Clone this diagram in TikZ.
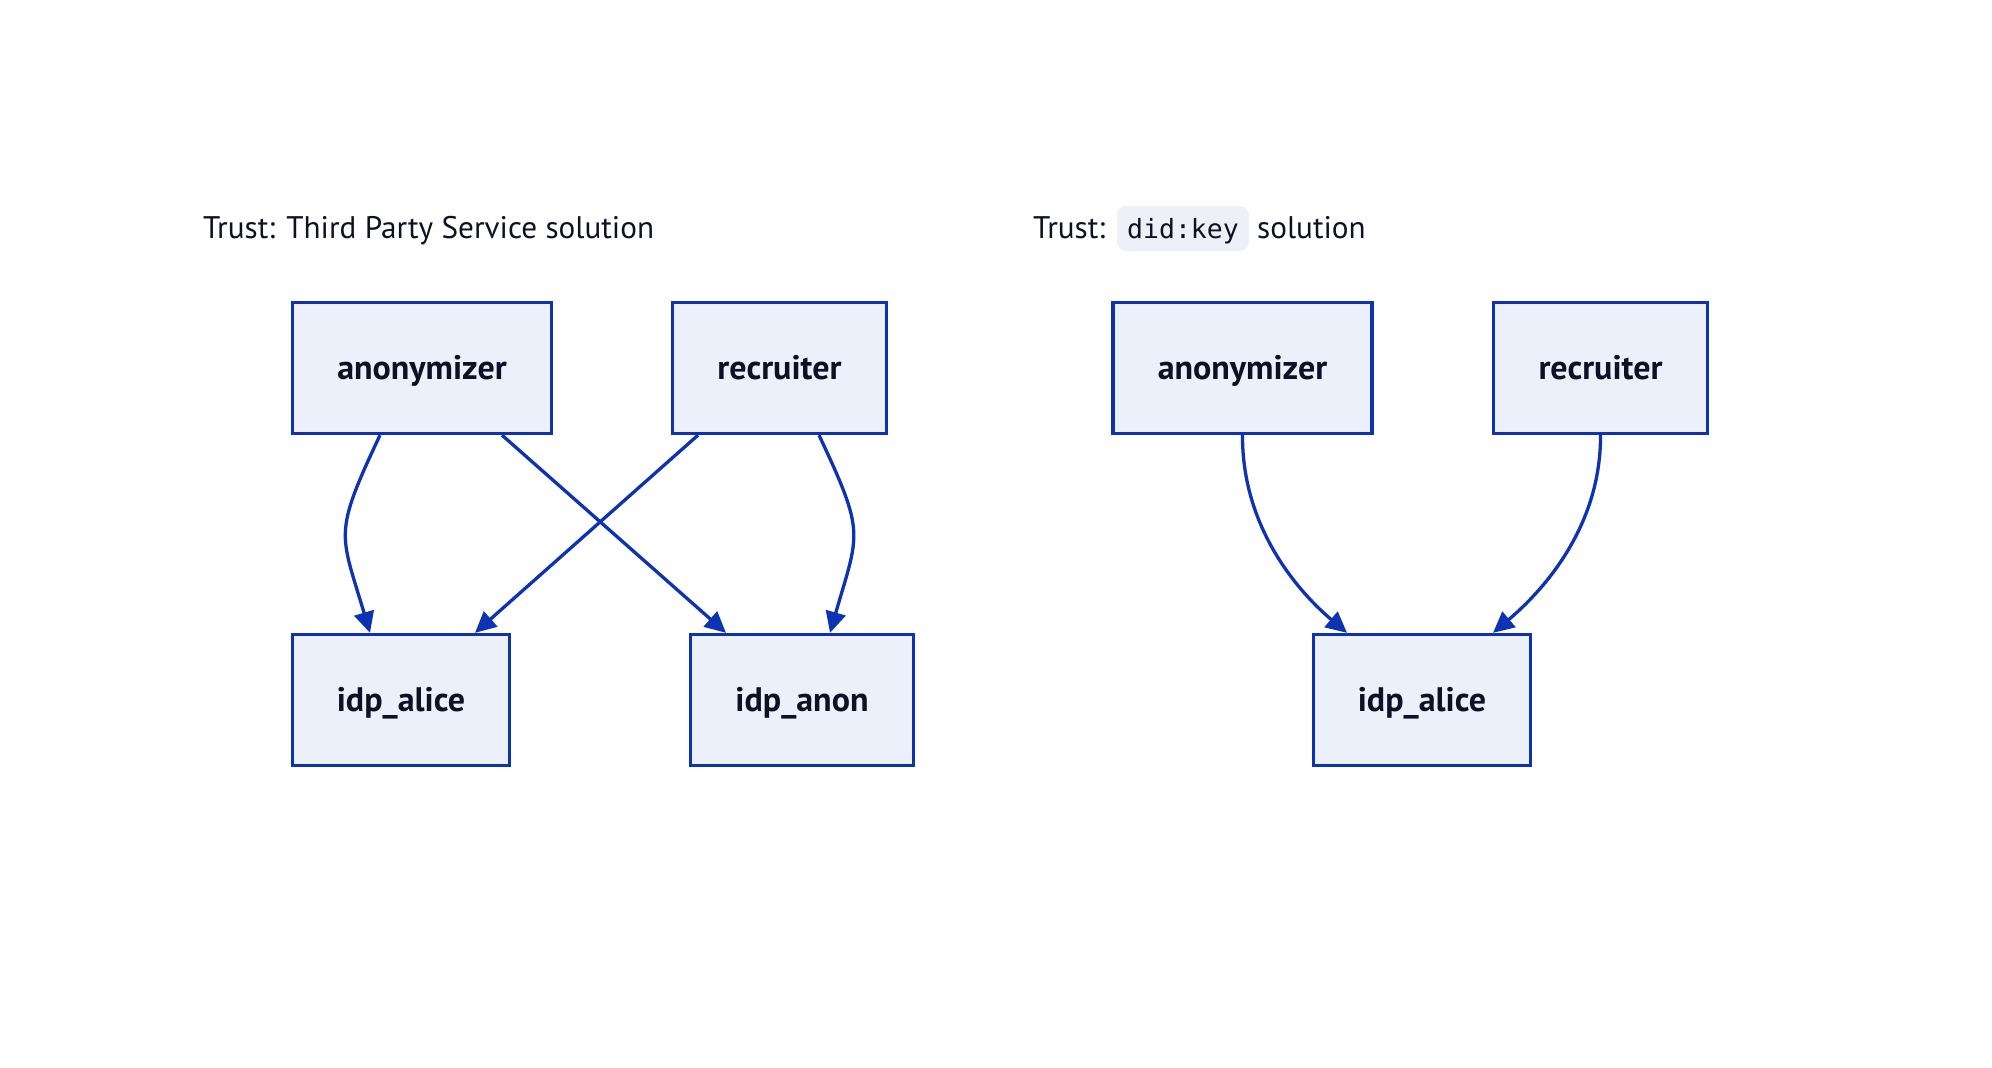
\documentclass[tikz,border=0pt]{standalone}
\usepackage{fontspec}
\setmainfont{PT Sans}
\newfontfamily\codefont{DejaVu Sans Mono}
\usetikzlibrary{arrows.meta}
\definecolor{boxfill}{RGB}{236,240,251}
\definecolor{boxline}{RGB}{13,50,178}
\definecolor{txt}{RGB}{14,16,38}
\definecolor{codefill}{RGB}{237,240,246}
\tikzset{
  ent/.style={draw=boxline, fill=boxfill, line width=3.3pt, inner sep=0pt,
    minimum height=131pt, text height=22pt, text depth=0pt,
    font=\fontsize{34}{40}\selectfont\bfseries, text=txt},
  arr/.style={draw=boxline, line width=3.3pt, -{Triangle[length=21pt,width=20pt]}},
  ttl/.style={anchor=base west, inner sep=0pt, text=txt, font=\fontsize{31.2}{36}\selectfont},
  codebox/.style={fill=codefill, rounded corners=9pt, inner sep=0pt,
    minimum width=132pt, minimum height=45pt, text height=19pt, text depth=0pt,
    text=txt, font=\fontsize{26.5}{30}\codefont}
}
\begin{document}
\begin{tikzpicture}[x=1pt,y=-1pt]
\useasboundingbox (0,0) rectangle (1992,1068);
% left panel
\node[ttl] (t1) at (203,238) {Trust: Third Party Service solution};
\node[ent, minimum width=259pt] (a1) at (422,368) {anonymizer};
\node[ent, minimum width=214pt] (r1) at (779.5,368) {recruiter};
\node[ent, minimum width=217pt] (i1) at (401,700) {idp\_alice};
\node[ent, minimum width=223pt] (n1) at (802,700) {idp\_anon};
\draw[arr] ([xshift=-42pt]a1.south) .. controls (333,535) and (340,532) .. ([xshift=-31pt]i1.north);
\draw[arr] ([xshift=80pt]a1.south) -- ([xshift=-76pt]n1.north);
\draw[arr] ([xshift=-81.5pt]r1.south) -- ([xshift=74pt]i1.north);
\draw[arr] ([xshift=39.5pt]r1.south) .. controls (866,535) and (859,532) .. ([xshift=28pt]n1.north);
% right panel
\node[ttl] (t2) at (1033,238) {Trust:};
\node[codebox] (c2) at (1183,228.5) {did:key};
\node[ttl] (t3) at (1257,238) {solution};
\node[ent, minimum width=259pt] (a2) at (1242.5,368) {anonymizer};
\node[ent, minimum width=214pt] (r2) at (1600.5,368) {recruiter};
\node[ent, minimum width=217pt] (i2) at (1422,700) {idp\_alice};
\draw[arr] (a2.south) .. controls (1242,530) and (1301,594) .. ([xshift=-75pt]i2.north);
\draw[arr] (r2.south) .. controls (1601,530) and (1539,594) .. ([xshift=71pt]i2.north);
\end{tikzpicture}
\end{document}
